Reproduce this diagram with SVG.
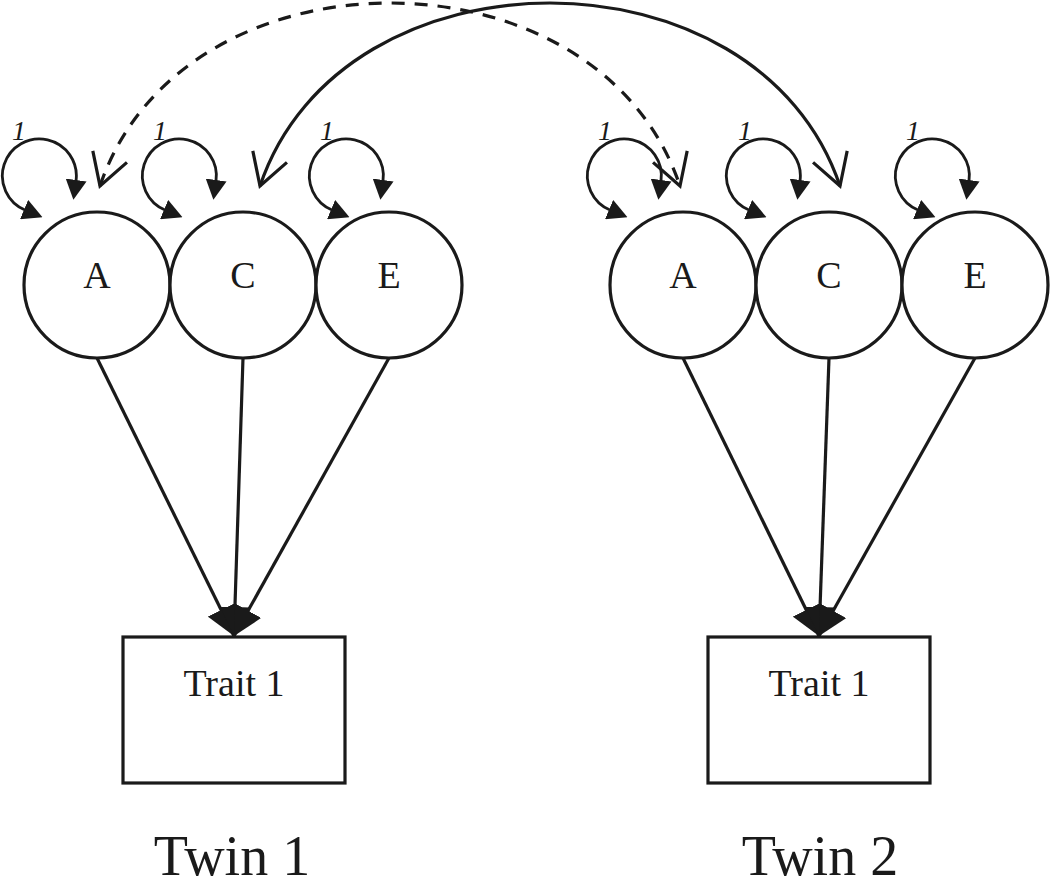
<svg xmlns="http://www.w3.org/2000/svg" width="1050" height="888" viewBox="0 0 1050 888">
<style>
.node circle{fill:#fff;stroke:#1a1a1a;stroke-width:3.2}
.node rect{fill:#fff;stroke:#1a1a1a;stroke-width:3.2}
.lbl{font-family:"Liberation Serif","Times New Roman",serif;fill:#1a1a1a;text-anchor:middle}
.one{font-family:"Liberation Serif","Times New Roman",serif;font-style:italic;font-size:28px;fill:#1a1a1a;text-anchor:middle}
.path{fill:none;stroke:#1a1a1a;stroke-width:3.2;marker-end:url(#fill)}
.loop{fill:none;stroke:#1a1a1a;stroke-width:2.8;marker-start:url(#small);marker-end:url(#small)}
.cov{fill:none;stroke:#1a1a1a;stroke-width:3.2;marker-start:url(#open);marker-end:url(#open)}
.dash{stroke-dasharray:13 10}
</style>
<defs>
<marker id="fill" markerUnits="userSpaceOnUse" viewBox="0 0 29 30" refX="29" refY="15" markerWidth="29" markerHeight="30" orient="auto">
<path d="M0,0 L29,15 L0,30 z" fill="#1a1a1a"/>
</marker>
<marker id="small" markerUnits="userSpaceOnUse" viewBox="0 0 20 21" refX="1" refY="10.5" markerWidth="20" markerHeight="21" orient="auto-start-reverse">
<path d="M0,0 L20,10.5 L0,21 z" fill="#1a1a1a"/>
</marker>
<marker id="open" markerUnits="userSpaceOnUse" viewBox="0 0 40 44" refX="34" refY="22" markerWidth="40" markerHeight="44" orient="auto-start-reverse">
<path d="M3,4 L34,22 L3,40" fill="none" stroke="#1a1a1a" stroke-width="3.2"/>
</marker>
</defs>

<g id="connectors">
<path class="path" d="M97,358 L234,636"/>
<path class="path" d="M243,358 L234,636"/>
<path class="path" d="M389,358 L234,636"/>
<path class="path" d="M683,358 L819,636"/>
<path class="path" d="M829,358 L819,636"/>
<path class="path" d="M975,358 L819,636"/>
<path class="cov dash" d="M100,186 C182,-58 598,-58 680,186"/>
<path class="cov" d="M260,186 C342,-58 758,-58 840,186"/>
<path class="loop" d="M25,210 A37,37 0 1 1 76,181"/>
<path class="loop" transform="translate(140,0)" d="M25,210 A37,37 0 1 1 76,181"/>
<path class="loop" transform="translate(307,0)" d="M25,210 A37,37 0 1 1 76,181"/>
<path class="loop" transform="translate(585,0)" d="M25,210 A37,37 0 1 1 76,181"/>
<path class="loop" transform="translate(724,0)" d="M25,210 A37,37 0 1 1 76,181"/>
<path class="loop" transform="translate(893,0)" d="M25,210 A37,37 0 1 1 76,181"/>
</g>

<g id="loop-labels">
<text class="one" x="19" y="140">1</text>
<text class="one" x="160" y="140">1</text>
<text class="one" x="327" y="140">1</text>
<text class="one" x="605" y="140">1</text>
<text class="one" x="745" y="140">1</text>
<text class="one" x="913" y="140">1</text>
</g>

<g id="t1A" class="node"><circle cx="97" cy="285" r="73"/><text class="lbl" x="97" y="288" font-size="38">A</text></g>
<g id="t1C" class="node"><circle cx="243" cy="285" r="73"/><text class="lbl" x="243" y="288" font-size="38">C</text></g>
<g id="t1E" class="node"><circle cx="389" cy="285" r="73"/><text class="lbl" x="389" y="288" font-size="38">E</text></g>
<g id="t2A" class="node"><circle cx="683" cy="285" r="73"/><text class="lbl" x="683" y="288" font-size="38">A</text></g>
<g id="t2C" class="node"><circle cx="829" cy="285" r="73"/><text class="lbl" x="829" y="288" font-size="38">C</text></g>
<g id="t2E" class="node"><circle cx="975" cy="285" r="73"/><text class="lbl" x="975" y="288" font-size="38">E</text></g>

<g id="trait1" class="node"><rect x="123" y="637" width="222" height="146"/><text class="lbl" x="234" y="696" font-size="38">Trait 1</text></g>
<g id="trait2" class="node"><rect x="708" y="637" width="222" height="146"/><text class="lbl" x="819" y="696" font-size="38">Trait 1</text></g>

<text class="lbl" x="232" y="875" font-size="56">Twin 1</text>
<text class="lbl" x="820" y="875" font-size="56">Twin 2</text>
</svg>
